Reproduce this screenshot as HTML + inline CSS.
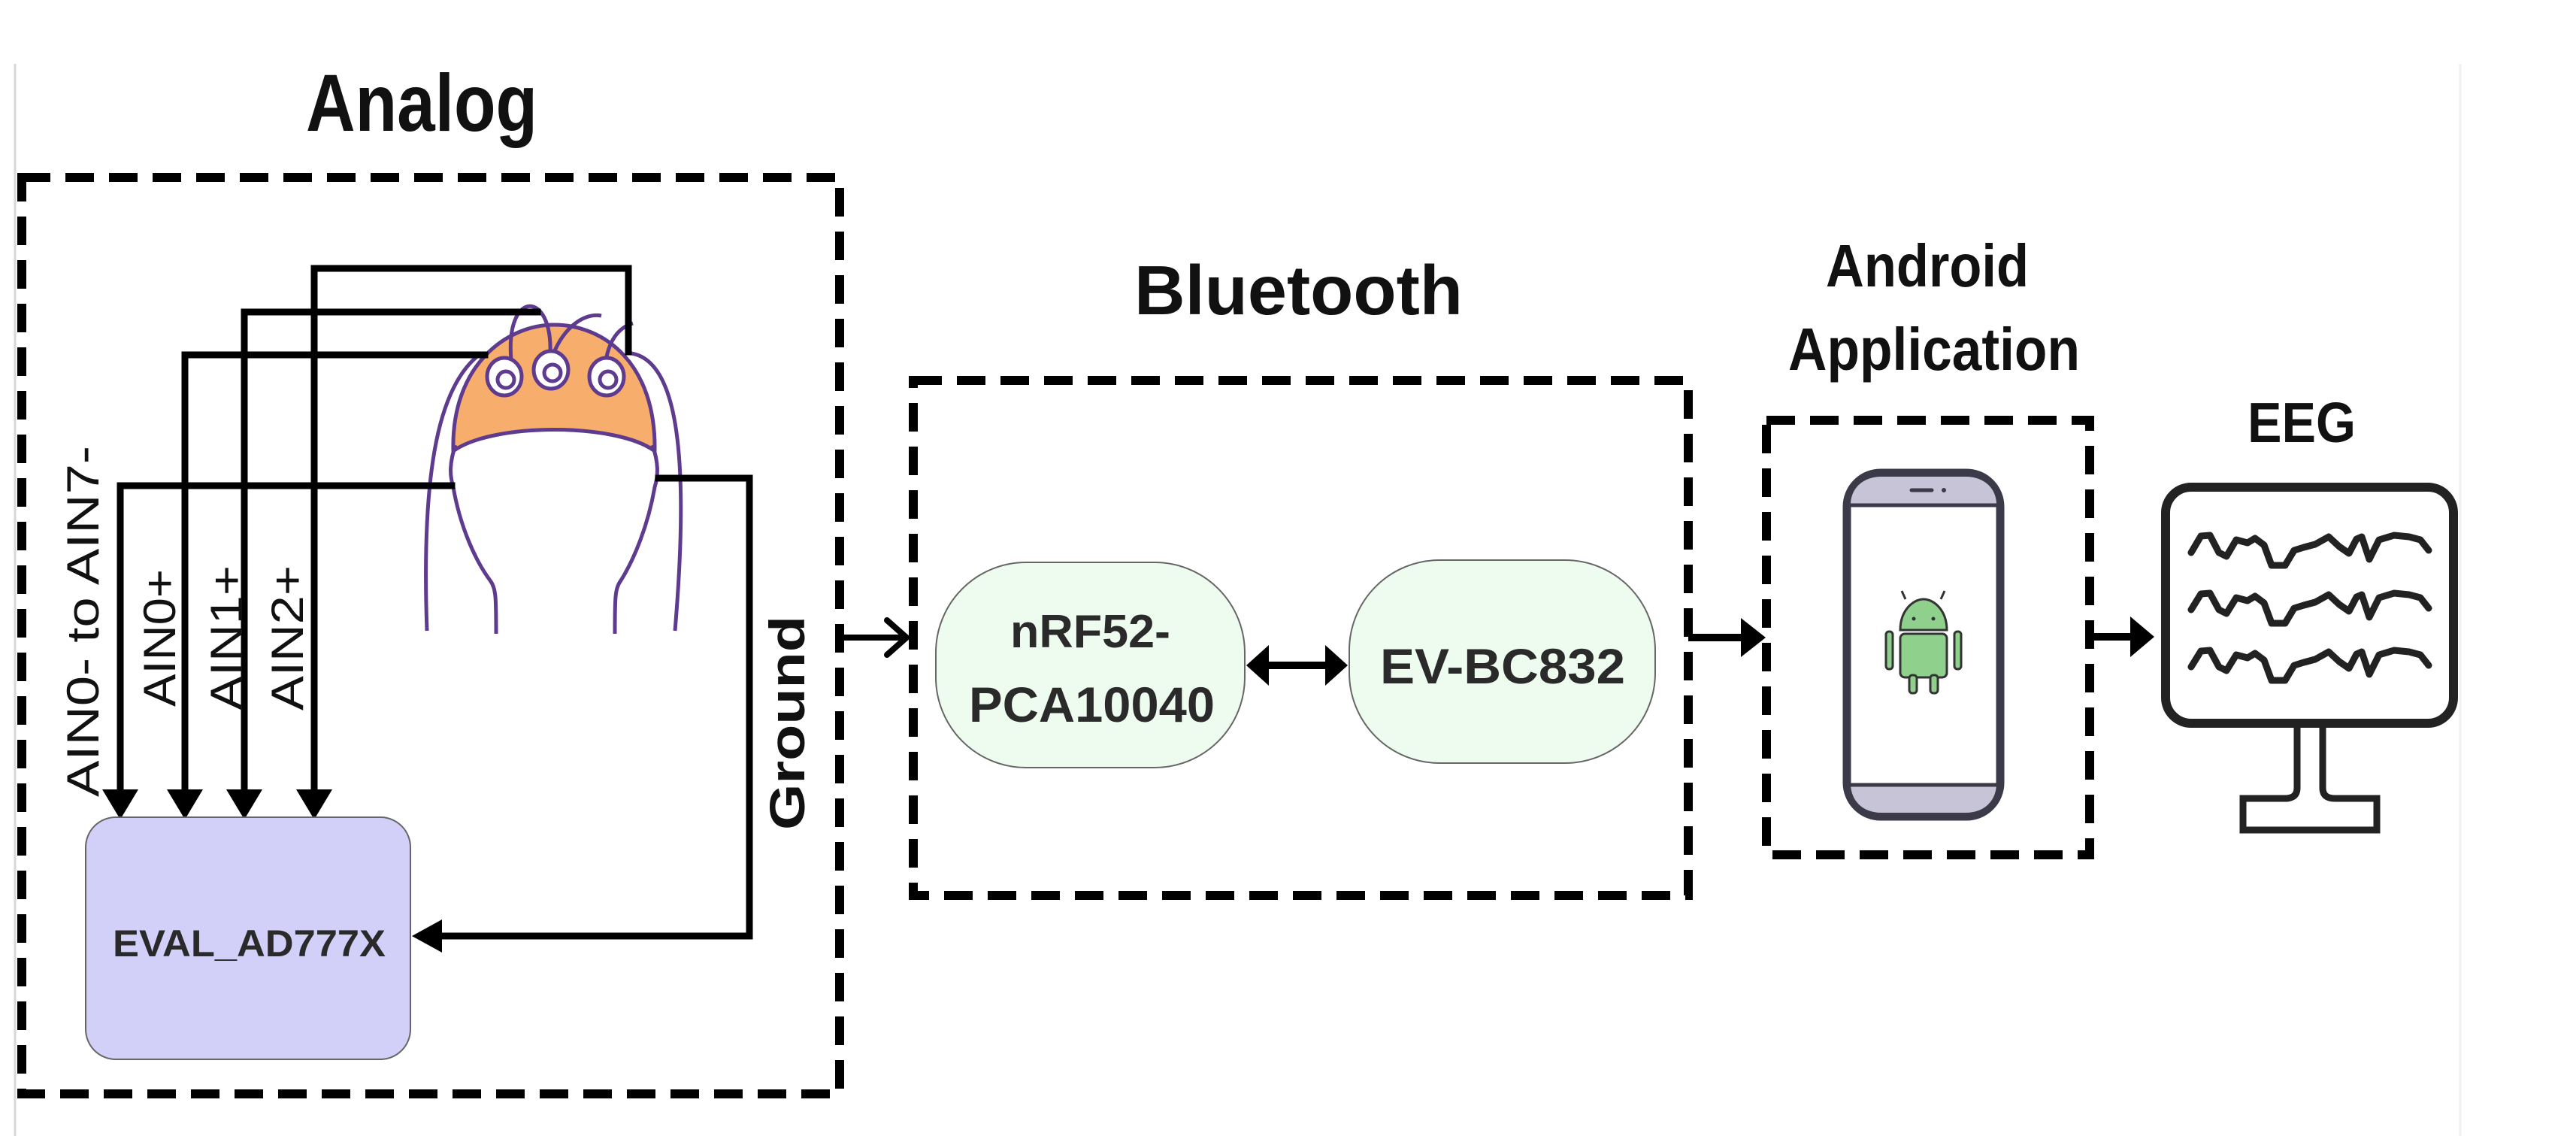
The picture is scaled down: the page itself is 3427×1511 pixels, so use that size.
<!DOCTYPE html>
<html><head><meta charset="utf-8"><style>
html,body{margin:0;padding:0;background:#fff;}
svg{display:block;}
text{font-family:"Liberation Sans",sans-serif;}
</style></head><body>
<svg width="3427" height="1511" viewBox="0 0 3427 1511" xmlns="http://www.w3.org/2000/svg">
<rect width="3427" height="1511" fill="#fff"/>
<line x1="20" y1="85" x2="20" y2="1511" stroke="#d8d8d8" stroke-width="3"/>
<line x1="3273" y1="85" x2="3273" y2="1511" stroke="#f0f0f0" stroke-width="3"/>

<text x="407" y="174" font-size="108" font-weight="bold" textLength="308" lengthAdjust="spacingAndGlyphs" fill="#111">Analog</text>
<text x="1509" y="418" font-size="93" font-weight="bold" textLength="437" lengthAdjust="spacingAndGlyphs" fill="#111">Bluetooth</text>
<text x="2429" y="381" font-size="80" font-weight="bold" textLength="270" lengthAdjust="spacingAndGlyphs" fill="#111">Android</text>
<text x="2379" y="492" font-size="80" font-weight="bold" textLength="388" lengthAdjust="spacingAndGlyphs" fill="#111">Application</text>
<text x="2990" y="588" font-size="75" font-weight="bold" textLength="144" lengthAdjust="spacingAndGlyphs" fill="#111">EEG</text>

<g fill="none" stroke="#000" stroke-width="12" stroke-dasharray="38 20">
<rect x="29" y="236" width="1088" height="1219"/>
<rect x="1215" y="506" width="1031" height="685"/>
<rect x="2350" y="559" width="430" height="578"/>
</g>

<g stroke="#5e3b8f" stroke-width="5" fill="none">
<path d="M603,600 C600,485 675,432 737,432 C805,432 873,485 871,600 C820,562 655,562 603,600 Z" fill="#f7ad6c"/>
<path d="M606,592 C598,615 598,632 603,648 C612,700 632,745 652,772 C660,783 660,795 660,843"/>
<path d="M868,592 C876,615 876,632 871,648 C862,700 843,745 826,772 C818,783 818,795 818,843"/>
<path d="M680,478 C672,385 735,385 732,470"/>
<path d="M733,480 C745,440 775,415 800,420"/>
<path d="M805,485 C810,450 825,435 842,430"/>
<path d="M640,470 C585,510 560,620 568,839"/>
<path d="M840,470 C900,480 918,600 898,839"/>
<ellipse cx="671" cy="501" rx="23" ry="25" fill="#fff"/>
<ellipse cx="733" cy="492" rx="23" ry="25" fill="#fff"/>
<ellipse cx="807" cy="501" rx="23" ry="25" fill="#fff"/>
<circle cx="673" cy="505" r="11" fill="#fff"/>
<circle cx="735" cy="496" r="11" fill="#fff"/>
<circle cx="809" cy="505" r="11" fill="#fff"/>
</g>

<g stroke="#000" stroke-width="9" fill="none" stroke-linecap="square">
<polyline points="418,1055 418,357 836,357 836,468"/>
<polyline points="325,1055 325,415 715,415"/>
<polyline points="246,1055 246,472 645,472"/>
<polyline points="160,1055 160,646 601,646"/>
<polyline points="876,636 997,636 997,1245 580,1245"/>
</g>
<g fill="#000">
<polygon points="136,1050 184,1050 160,1090"/>
<polygon points="222,1050 270,1050 246,1090"/>
<polygon points="301,1050 349,1050 325,1090"/>
<polygon points="394,1050 442,1050 418,1090"/>
<polygon points="548,1245 588,1223 588,1267"/>
</g>

<text transform="translate(131,1060) rotate(-90)" font-size="60" textLength="467" lengthAdjust="spacingAndGlyphs" fill="#111">AIN0- to AIN7-</text>
<text transform="translate(233,940) rotate(-90)" font-size="60" textLength="183" lengthAdjust="spacingAndGlyphs" fill="#111">AIN0+</text>
<text transform="translate(322,945) rotate(-90)" font-size="60" textLength="193" lengthAdjust="spacingAndGlyphs" fill="#111">AIN1+</text>
<text transform="translate(403,945) rotate(-90)" font-size="60" textLength="193" lengthAdjust="spacingAndGlyphs" fill="#111">AIN2+</text>
<text transform="translate(1070,1104) rotate(-90)" font-size="66" font-weight="bold" textLength="285" lengthAdjust="spacingAndGlyphs" fill="#111">Ground</text>

<rect x="114" y="1087" width="432" height="322" rx="40" fill="#d2d0f8" stroke="#666" stroke-width="2"/>
<text x="150" y="1272" font-size="50" font-weight="bold" textLength="363" lengthAdjust="spacingAndGlyphs" fill="#2a2a2a">EVAL_AD777X</text>

<line x1="1118" y1="848" x2="1205" y2="848" stroke="#000" stroke-width="8"/>
<polyline points="1180,825 1206,848 1180,871" fill="none" stroke="#000" stroke-width="8" stroke-linecap="round"/>

<rect x="1245" y="748" width="411" height="273" rx="120" fill="#eefbef" stroke="#666" stroke-width="2"/>
<text x="1344" y="861" font-size="62" font-weight="bold" textLength="213" lengthAdjust="spacingAndGlyphs" fill="#2a2a2a">nRF52-</text>
<text x="1289" y="960" font-size="66" font-weight="bold" textLength="327" lengthAdjust="spacingAndGlyphs" fill="#2a2a2a">PCA10040</text>
<rect x="1795" y="745" width="407" height="270" rx="120" fill="#eefbef" stroke="#666" stroke-width="2"/>
<text x="1836" y="909" font-size="66" font-weight="bold" textLength="326" lengthAdjust="spacingAndGlyphs" fill="#2a2a2a">EV-BC832</text>
<line x1="1680" y1="885" x2="1770" y2="885" stroke="#000" stroke-width="10"/>
<polygon points="1658,885 1688,858 1688,912" fill="#000"/>
<polygon points="1793,885 1763,858 1763,912" fill="#000"/>

<line x1="2246" y1="848" x2="2320" y2="848" stroke="#000" stroke-width="10"/>
<polygon points="2349,848 2316,822 2316,874" fill="#000"/>

<rect x="2457" y="629" width="204" height="457" rx="45" fill="#fff" stroke="#3a3a48" stroke-width="11"/>
<path d="M2462,671 L2462,674 L2656,674 L2656,671 C2656,650 2640,634 2615,634 L2503,634 C2478,634 2462,650 2462,671 Z" fill="#c6c4d6"/>
<path d="M2462,1044 L2656,1044 L2656,1042 C2656,1065 2640,1081 2615,1081 L2503,1081 C2478,1081 2462,1065 2462,1042 Z" fill="#c6c4d6"/>
<line x1="2462" y1="672" x2="2656" y2="672" stroke="#3a3a48" stroke-width="5"/>
<line x1="2462" y1="1044" x2="2656" y2="1044" stroke="#3a3a48" stroke-width="5"/>
<line x1="2543" y1="652" x2="2570" y2="652" stroke="#3a3a48" stroke-width="5" stroke-linecap="round"/>
<circle cx="2586" cy="652" r="3" fill="#3a3a48"/>
<g stroke="#333" stroke-width="3">
<line x1="2535" y1="797" x2="2530" y2="786"/>
<line x1="2582" y1="797" x2="2587" y2="786"/>
<path d="M2528,838 C2528,812 2545,797 2559,797 C2573,797 2590,812 2590,838 Z" fill="#8fd18c"/>
<rect x="2528" y="843" width="62" height="58" rx="6" fill="#8fd18c"/>
<rect x="2509" y="840" width="9" height="50" rx="4" fill="#8fd18c"/>
<rect x="2600" y="840" width="9" height="50" rx="4" fill="#8fd18c"/>
<rect x="2540" y="898" width="10" height="24" rx="4" fill="#8fd18c"/>
<rect x="2568" y="898" width="10" height="24" rx="4" fill="#8fd18c"/>
</g>
<circle cx="2546" cy="823" r="2.5" fill="#333"/>
<circle cx="2572" cy="823" r="2.5" fill="#333"/>

<line x1="2785" y1="847" x2="2838" y2="847" stroke="#000" stroke-width="10"/>
<polygon points="2866,847 2834,820 2834,874" fill="#000"/>

<rect x="2881" y="648" width="383" height="314" rx="34" fill="#fff" stroke="#222" stroke-width="12"/>
<path d="M3056,968 L3056,1048 C3056,1058 3050,1062 3040,1062 L2984,1062 L2984,1104 L3162,1104 L3162,1062 L3106,1062 C3096,1062 3090,1058 3090,1048 L3090,968" fill="#fff" stroke="#222" stroke-width="9"/>
<g fill="none" stroke="#222" stroke-width="9" stroke-linecap="round" stroke-linejoin="round">
<path d="M2915,735 L2928,713 L2940,712 L2952,735 L2962,740 L2975,718 L2990,722 L3000,716 L3012,725 L3022,752 L3040,752 L3052,732 L3065,728 L3080,724 L3098,714 L3112,727 L3125,736 L3135,717 L3142,714 L3152,744 L3165,718 L3185,712 L3205,714 L3220,718 L3231,732"/>
<path d="M2915,811 L2928,790 L2940,789 L2952,811 L2962,816 L2975,795 L2990,799 L3000,793 L3012,802 L3022,829 L3040,829 L3052,809 L3065,805 L3080,801 L3098,791 L3112,804 L3125,813 L3135,794 L3142,791 L3152,821 L3165,795 L3185,789 L3205,791 L3220,795 L3231,809"/>
<path d="M2915,887 L2928,866 L2940,865 L2952,887 L2962,892 L2975,871 L2990,875 L3000,869 L3012,878 L3022,905 L3040,905 L3052,885 L3065,881 L3080,877 L3098,867 L3112,880 L3125,889 L3135,870 L3142,867 L3152,897 L3165,871 L3185,865 L3205,867 L3220,871 L3231,885"/>
</g>
</svg>
</body></html>
